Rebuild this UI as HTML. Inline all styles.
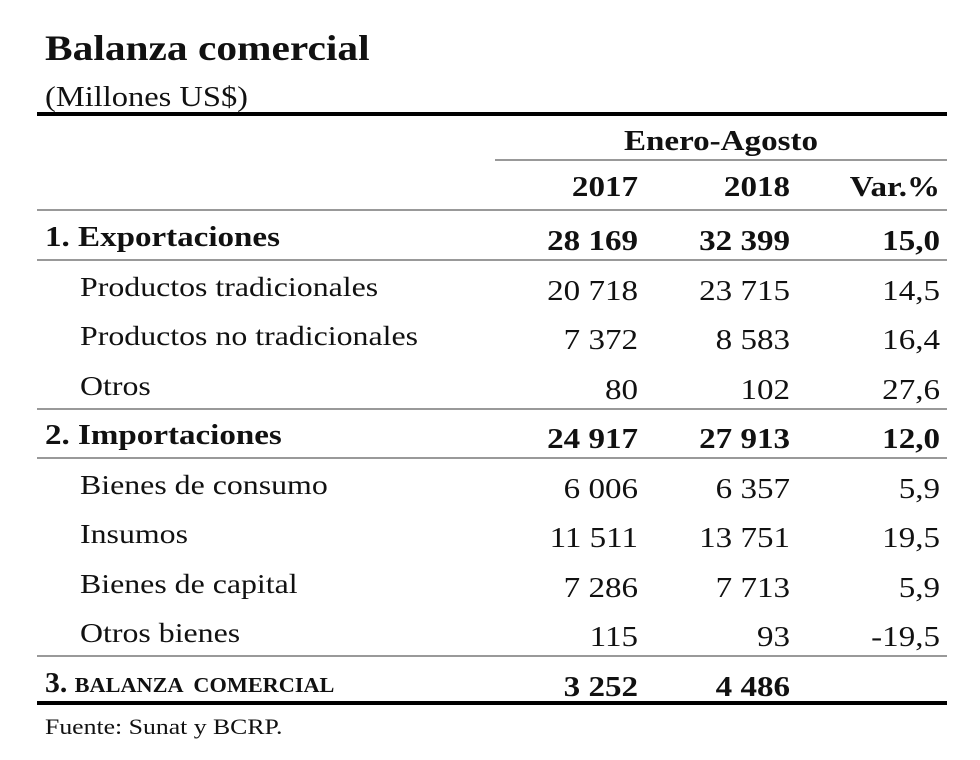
<!DOCTYPE html>
<html><head><meta charset="utf-8"><style>
body{margin:0;background:#fff;}
#c{position:relative;width:980px;height:760px;background:#fff;font-family:"Liberation Serif",serif;color:#111;overflow:hidden}
.t{position:absolute;white-space:nowrap;line-height:1;transform:scaleX(1.18);transform-origin:left center}
.r{text-align:right;transform-origin:right center}
.ctr{transform-origin:center center}
.ln{position:absolute;background:#999;height:2px}
.bk{position:absolute;background:#000;height:4px}
</style></head><body>
<div id="c">
<div class="t" style="left:45px;top:30px;font-size:36px;font-weight:bold;transform:scaleX(1.15)">Balanza comercial</div>
<div class="t" style="left:45px;top:84px;font-size:28px;transform:scaleX(1.16)">(Millones US$)</div>
<div class="bk" style="left:37px;width:910px;top:112px"></div>
<div class="t ctr" style="left:495px;width:452px;text-align:center;top:128px;font-size:28px;font-weight:bold">Enero-Agosto</div>
<div class="ln" style="left:495px;width:452px;top:159px"></div>
<div class="t r" style="left:500px;width:138px;top:174px;font-size:28px;font-weight:bold">2017</div>
<div class="t r" style="left:650px;width:140px;top:174px;font-size:28px;font-weight:bold">2018</div>
<div class="t r" style="left:800px;width:140px;top:174px;font-size:28px;font-weight:bold">Var.%</div>
<div class="ln" style="left:37px;width:910px;top:209px"></div>
<div class="bk" style="left:37px;width:910px;top:701px"></div>
<div class="t" style="left:45px;top:716px;font-size:22px;transform:scaleX(1.17)">Fuente: Sunat y BCRP.</div>
</div>
<script>
const labels=["1. Exportaciones","Productos tradicionales","Productos no tradicionales","Otros","2. Importaciones","Bienes de consumo","Insumos","Bienes de capital","Otros bienes","3. BALANZA COMERCIAL"];
const v2017=["28 169","20 718","7 372","80","24 917","6 006","11 511","7 286","115","3 252"];
const v2018=["32 399","23 715","8 583","102","27 913","6 357","13 751","7 713","93","4 486"];
const vvar=["15,0","14,5","16,4","27,6","12,0","5,9","19,5","5,9","-19,5",""];
const bold=[1,0,0,0,1,0,0,0,0,1];
const linesAfter=[0,3,4,8];
const c=document.getElementById('c');
function mk(txt,l,w,top,b,right,size){const d=document.createElement('div');d.className='t'+(right?' r':'');d.textContent=txt;d.style.left=l+'px';if(w)d.style.width=w+'px';d.style.top=top+'px';d.style.fontSize=(size||27)+'px';if(b)d.style.fontWeight='bold';c.appendChild(d);return d;}
labels.forEach((lab,i)=>{
 const top=224+i*49.5;
 let e;
 if(i===9){
  e=mk('3. ',45,0,top,1,0,28);
  
  
  e.style.transform='scaleX(1.06)';
  const s=document.createElement('span');s.textContent='BALANZA  COMERCIAL';s.style.fontSize='21px';s.style.whiteSpace='pre';e.textContent='3. ';e.appendChild(s);
 } else {
  e=mk(lab,bold[i]?45:80,0,top,bold[i],0,bold[i]?28:27);
  
  
 }
 e=mk(v2017[i],500,138,top+4,bold[i],1,28);
 
 
 e=mk(v2018[i],650,140,top+4,bold[i],1,28);
 
 
 e=mk(vvar[i],800,140,top+4,bold[i],1,28);
 
 
 if(linesAfter.includes(i)){
  const l=document.createElement('div');l.className='ln';l.style.left='37px';l.style.width='910px';l.style.top=(259+i*49.5)+'px';
  
  
  c.appendChild(l);
 }
});
</script>
</body></html>
